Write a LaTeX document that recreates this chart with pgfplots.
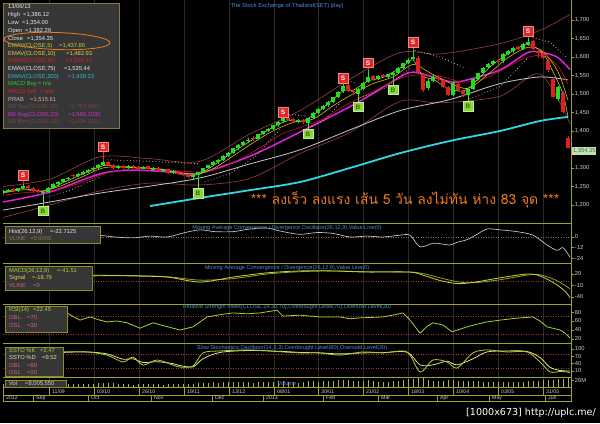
\documentclass[border=0pt]{standalone}
\usepackage{pgfplots}
\pgfplotsset{compat=1.18}
\usepackage{pgfplotstable}
\usepackage{fontspec}
\setmainfont{Liberation Sans}
\newfontfamily\thaifont[Script=Thai]{Loma}
\newfontfamily\wmfont{DejaVu Sans}
\newcommand\fs[1]{\fontsize{#1}{#1}\selectfont}

\definecolor{axc}{HTML}{A0A02C}
\definecolor{lab}{HTML}{CCCCCC}
\definecolor{gridc}{HTML}{2A2A2A}
\definecolor{upc}{HTML}{22DD22}
\definecolor{dnc}{HTML}{E02020}
\definecolor{ema5}{HTML}{B4D832}
\definecolor{ema10}{HTML}{E0B020}
\definecolor{ema25}{HTML}{C01818}
\definecolor{ema75}{HTML}{C8C8C8}
\definecolor{ema200}{HTML}{30D8E0}
\definecolor{bbavg}{HTML}{E020E0}
\definecolor{bbband}{HTML}{8A3A3A}
\definecolor{prab}{HTML}{D8A8A8}
\definecolor{ttl}{HTML}{4C8CD8}
\definecolor{boxf}{HTML}{363636}
\definecolor{boxb}{HTML}{8C8C2C}
\definecolor{infob}{HTML}{8C7A3C}
\definecolor{refl}{HTML}{A83848}
\definecolor{zerol}{HTML}{8C6C4C}
\definecolor{pinkt}{HTML}{D06A6A}
\definecolor{ygreen}{HTML}{A8D030}
\definecolor{yel}{HTML}{E0D040}
\definecolor{paley}{HTML}{E0E090}
\definecolor{sred}{HTML}{E02828}
\definecolor{bgreen}{HTML}{88D838}
\definecolor{thaio}{HTML}{EC7A22}
\definecolor{histc}{HTML}{C8C0B0}
\definecolor{volc}{HTML}{B4B43C}
\definecolor{whitet}{HTML}{E6E6E6}
\definecolor{cyant}{HTML}{28C0C8}
\definecolor{brownt}{HTML}{7A4242}
\definecolor{magt}{HTML}{D030D0}
\definecolor{greent}{HTML}{30D030}
\definecolor{olivet}{HTML}{8C7C48}
\definecolor{pbox}{HTML}{C8DCB8}
\definecolor{ptxt}{HTML}{2E7D2E}

\pgfplotstableread{
x o h l c v
3 1232 1240 1230 1236 12
8 1236 1243 1234 1240 10
13 1242 1245 1235 1238 11
18 1238 1247 1236 1244 12
23 1246 1256 1244 1250 14
28 1251 1253 1243 1245 13
33 1246 1248 1236 1239 15
38 1240 1242 1232 1236 12
43 1231 1238 1222 1233 16
48 1234 1248 1232 1245 14
53 1246 1258 1244 1255 15
58 1256 1265 1252 1262 13
63 1263 1270 1258 1268 12
68 1270 1276 1266 1272 11
73 1281 1284 1274 1278 12
78 1277 1287 1275 1283 13
83 1284 1292 1281 1288 14
88 1290 1297 1286 1294 12
93 1296 1303 1292 1299 13
98 1300 1310 1297 1306 15
103 1307 1320 1305 1314 18
108 1316 1320 1306 1309 17
113 1309 1311 1296 1300 16
118 1299 1307 1296 1304 12
123 1305 1308 1296 1299 11
128 1299 1309 1297 1305 12
133 1306 1308 1299 1302 10
138 1303 1305 1295 1298 11
143 1298 1306 1296 1303 12
148 1304 1306 1293 1296 13
153 1295 1302 1293 1299 11
158 1300 1302 1290 1292 12
163 1291 1298 1289 1295 10
168 1296 1298 1285 1288 12
173 1287 1294 1285 1290 11
178 1291 1293 1280 1283 13
183 1284 1286 1277 1280 12
188 1282 1284 1272 1276 14
193 1275 1284 1270 1281 13
198 1280 1290 1264 1287 16
203 1288 1301 1286 1298 18
208 1299 1309 1296 1306 17
213 1307 1318 1304 1315 19
218 1316 1325 1312 1322 18
223 1322 1334 1319 1331 20
228 1333 1343 1329 1340 21
233 1341 1355 1338 1352 22
238 1353 1364 1348 1361 20
243 1362 1373 1358 1370 21
248 1372 1380 1367 1376 19
253 1382 1387 1372 1377 18
258 1378 1393 1376 1390 20
263 1391 1401 1388 1398 19
268 1399 1408 1396 1405 21
273 1406 1417 1403 1414 22
278 1415 1427 1412 1424 24
283 1426 1444 1422 1434 26
288 1436 1440 1427 1430 22
293 1432 1434 1422 1426 20
298 1425 1432 1422 1428 18
303 1430 1432 1420 1424 19
308 1422 1436 1414 1433 23
313 1434 1450 1432 1447 24
318 1448 1461 1445 1458 22
323 1459 1471 1456 1468 23
328 1470 1481 1466 1478 24
333 1479 1493 1476 1490 25
338 1491 1508 1488 1505 27
343 1507 1536 1503 1522 30
348 1524 1528 1506 1510 28
353 1508 1512 1498 1505 26
358 1500 1515 1492 1512 24
363 1513 1533 1510 1530 25
368 1532 1566 1529 1545 27
373 1548 1552 1536 1540 23
378 1541 1551 1537 1548 22
383 1550 1553 1542 1546 21
388 1545 1555 1540 1552 22
393 1550 1559 1533 1556 24
398 1558 1573 1555 1570 26
403 1571 1585 1568 1582 28
408 1583 1596 1580 1592 32
413 1594 1618 1590 1600 34
418 1598 1602 1555 1560 36
423 1555 1558 1505 1512 38
428 1515 1540 1510 1535 30
433 1536 1550 1532 1545 26
438 1547 1550 1536 1540 24
443 1538 1541 1515 1520 26
448 1518 1522 1495 1498 28
453 1497 1535 1494 1530 30
458 1528 1531 1506 1510 24
463 1509 1512 1492 1500 25
468 1498 1516 1490 1512 26
473 1514 1543 1511 1540 25
478 1541 1558 1538 1555 23
483 1556 1573 1553 1570 22
488 1572 1583 1568 1580 21
493 1582 1592 1578 1588 20
498 1590 1594 1582 1586 19
503 1588 1611 1585 1608 22
508 1609 1619 1605 1615 21
513 1617 1627 1612 1624 20
518 1626 1631 1618 1622 19
523 1621 1637 1618 1633 22
528 1634 1652 1630 1640 24
533 1642 1646 1618 1622 26
538 1615 1625 1598 1612 25
543 1612 1616 1595 1598 27
548 1590 1595 1560 1566 28
553 1540 1545 1488 1492 30
558 1486 1522 1480 1518 32
563 1503 1508 1448 1452 34
568 1382 1386 1354 1354 36
}\candles

\pgfplotsset{
 panel/.style={
  scale only axis, width=568bp, xmin=3, xmax=571, anchor=south west,
  axis line style={draw=none}, xtick=\empty,
  ytick pos=right, yticklabel pos=right, tick align=outside,
  major tick length=2.5bp,
  tick style={draw=axc, line width=0.6bp},
  yticklabel style={font=\fs{5.8}, text=lab, inner sep=1.2bp},
 },
}

\newcommand\infoline[5]{%
 \node[anchor=base west,inner sep=0,text=#2,font=\fs{5.8}] at (8,#1) {#3};
 \node[anchor=base west,inner sep=0,text=#2,font=\fs{5.8}] at (#4,#1) {#5};}
\newcommand\subline[5]{%
 \node[anchor=base west,inner sep=0,text=#2,font=\fs{5.8}] at (9,#1) {#3};
 \node[anchor=base west,inner sep=0,text=#2,font=\fs{5.8}] at (#4,#1) {#5};}

\begin{document}
\begin{tikzpicture}[x=1bp,y=1bp]
\useasboundingbox (0,0) rectangle (600,423);
\fill[black] (0,0) rectangle (600,423);
% faint vertical grid
\foreach \gx in {49,94,139,184,229,274,318,363,408,453,498,543}{
  \draw[gridc, line width=0.6bp] (\gx,36) -- (\gx,423);}

% ---------------- main price panel ----------------
\begin{axis}[panel, at={(3bp,200bp)}, height=223bp, ymin=1151.2, ymax=1754,
 ytick={1200,1250,1300,1400,1450,1500,1550,1600,1650,1700},
 yticklabels={{1,200},{1,250},{1,300},{1,400},{1,450},{1,500},{1,550},{1,600},{1,650},{1,700}}]
% Bollinger bands
\addplot[bbband, line width=0.7bp, smooth] coordinates {(3,1250) (50,1270) (100,1330) (150,1325) (200,1318) (250,1392) (300,1455) (350,1540) (400,1612) (440,1608) (500,1636) (540,1672) (570,1715)};
\addplot[bbband, line width=0.7bp, smooth] coordinates {(3,1166) (50,1200) (100,1238) (150,1259) (200,1254) (250,1272) (300,1339) (350,1396) (400,1480) (440,1476) (500,1494) (540,1554) (570,1420)};
% EMA200
\addplot[ema200, line width=1.8bp, smooth] coordinates {(150,1197) (200,1219) (250,1240) (300,1262) (350,1300) (400,1340) (450,1373) (500,1400) (540,1427) (568,1438)};
% EMA75
\addplot[ema75, line width=0.8bp, smooth] coordinates {(3,1186) (50,1208) (100,1232) (150,1251) (200,1273) (250,1311) (300,1349) (350,1403) (400,1455) (450,1485) (500,1528) (540,1546) (568,1538)};
% BB average
\addplot[bbavg, line width=1.5bp, smooth] coordinates {(3,1208) (50,1235) (100,1284) (133,1294) (170,1289) (200,1286) (250,1332) (300,1397) (357,1476) (400,1546) (413,1559) (433,1546) (453,1532) (467,1538) (500,1565) (527,1611) (540,1613) (557,1600) (570,1566)};
% EMA25
\addplot[ema25, line width=0.6bp, smooth] coordinates {(3,1226) (23,1233) (43,1236) (63,1245) (83,1262) (103,1283) (123,1295) (143,1299) (163,1297) (183,1291) (203,1290) (223,1302) (243,1328) (263,1360) (283,1393) (303,1412) (323,1432) (343,1466) (363,1493) (383,1520) (403,1545) (423,1552) (443,1546) (463,1532) (483,1540) (503,1566) (523,1595) (543,1604) (558,1575) (568,1526)};
% EMA10
\addplot[ema10, line width=0.6bp, smooth] coordinates {(3,1232) (23,1241) (43,1238) (63,1254) (83,1277) (103,1300) (123,1303) (143,1301) (163,1296) (183,1286) (198,1284) (213,1298) (233,1332) (253,1368) (273,1400) (293,1423) (313,1432) (333,1468) (353,1500) (373,1528) (393,1546) (413,1580) (428,1560) (448,1532) (468,1515) (488,1553) (508,1598) (528,1626) (543,1615) (558,1560) (568,1483)};
% EMA5
\addplot[ema5, line width=0.6bp, smooth] coordinates {(3,1235) (23,1244) (43,1237) (63,1260) (83,1284) (103,1306) (113,1306) (123,1302) (143,1300) (163,1295) (183,1282) (198,1282) (213,1306) (233,1343) (253,1377) (273,1410) (288,1428) (303,1427) (323,1462) (343,1508) (353,1510) (368,1535) (383,1545) (403,1575) (413,1592) (423,1548) (433,1540) (448,1515) (463,1508) (473,1527) (493,1580) (513,1617) (528,1634) (543,1610) (553,1560) (563,1500) (568,1438)};
% parabolic SAR (dots)
\pgfplotsset{prabst/.style={prab, line width=1.1bp, line cap=round, dash pattern=on 0bp off 3.2bp}}
\addplot[prabst] coordinates {(48,1222) (70,1240) (100,1275)};
\addplot[prabst] coordinates {(108,1322) (150,1318) (200,1311)};
\addplot[prabst] coordinates {(205,1262) (230,1285) (255,1330) (280,1405)};
\addplot[prabst] coordinates {(286,1446) (308,1440)};
\addplot[prabst] coordinates {(312,1412) (325,1430) (340,1476)};
\addplot[prabst] coordinates {(345,1538) (357,1528)};
\addplot[prabst] coordinates {(360,1490) (385,1515) (410,1570)};
\addplot[prabst] coordinates {(415,1618) (440,1600) (465,1570)};
\addplot[prabst] coordinates {(470,1487) (500,1520) (528,1598)};
\addplot[prabst] coordinates {(533,1652) (550,1640) (566,1600)};
% candles: wicks
\addplot[draw=none, mark=none, error bars/.cd, y dir=plus, y explicit, error mark=none,
  error bar style={draw=upc, line width=0.7bp}]
  table[x=x, y expr={\thisrow{c}>=\thisrow{o} ? \thisrow{l} : nan}, y error plus expr={\thisrow{h}-\thisrow{l}}] {\candles};
\addplot[draw=none, mark=none, error bars/.cd, y dir=plus, y explicit, error mark=none,
  error bar style={draw=dnc, line width=0.7bp}]
  table[x=x, y expr={\thisrow{c}<\thisrow{o} ? \thisrow{l} : nan}, y error plus expr={\thisrow{h}-\thisrow{l}}] {\candles};
% candles: bodies
\addplot[draw=none, mark=none, error bars/.cd, y dir=plus, y explicit, error mark=none,
  error bar style={draw=upc, line width=3.1bp}]
  table[x=x, y expr={\thisrow{c}>=\thisrow{o} ? \thisrow{o} : nan}, y error plus expr={\thisrow{c}-\thisrow{o}+0.8}] {\candles};
\addplot[draw=none, mark=none, error bars/.cd, y dir=plus, y explicit, error mark=none,
  error bar style={draw=dnc, line width=3.1bp}]
  table[x=x, y expr={\thisrow{c}<\thisrow{o} ? \thisrow{c} : nan}, y error plus expr={\thisrow{o}-\thisrow{c}}] {\candles};
% signal stems
\addplot[sred, line width=0.6bp, unbounded coords=jump] coordinates {(23,1267) (23,1256) (23,nan) (103,1343) (103,1320) (103,nan) (283,1437) (283,1444) (283,nan) (343,1529) (343,1536) (343,nan) (368,1570) (368,1566) (368,nan) (413,1626) (413,1618) (413,nan) (528,1656) (528,1652)};
\addplot[bgreen, line width=0.6bp, unbounded coords=jump] coordinates {(43,1198) (43,1222) (43,nan) (198,1246) (198,1264) (198,nan) (308,1406) (308,1414) (308,nan) (358,1479) (358,1492) (358,nan) (393,1525) (393,1533) (393,nan) (468,1481) (468,1490)};
% S markers
\addplot[only marks, mark=square*, mark size=4.8bp,
  mark options={fill=sred, draw=sred!55!white, line width=0.5bp},
  nodes near coords={S},
  every node near coord/.append style={anchor=center, inner sep=0pt, font=\fs{6.5}\bfseries, text=white}]
  coordinates {(23,1281) (103,1357) (283,1451) (343,1543) (368,1584) (413,1640) (528,1670)};
% B markers
\addplot[only marks, mark=square*, mark size=4.8bp,
  mark options={fill=bgreen, draw=bgreen!50!white, line width=0.5bp},
  nodes near coords={B},
  every node near coord/.append style={anchor=center, inner sep=0pt, font=\fs{6.5}\bfseries, text=bgreen!45!black}]
  coordinates {(43,1184) (198,1232) (308,1392) (358,1465) (393,1511) (468,1467)};
\end{axis}

% ---------------- MACD histogram oscillator ----------------
\begin{axis}[panel, at={(3bp,160bp)}, height=40bp, ymin=-29.2, ymax=15.7,
 ytick={0,-12,-24}, yticklabels={0,-12,-24}]
\addplot[zerol, line width=0.6bp, dash pattern=on 1bp off 1.5bp] coordinates {(3,0) (571,0)};
\addplot[histc, line width=0.7bp, smooth] coordinates {(100,2) (115,0) (133,-1) (150,1) (167,0) (185,5) (200,8) (215,6) (233,6) (250,9) (267,10) (283,6) (300,3) (317,5) (333,4) (350,0) (367,1) (383,0) (400,2) (410,2) (420,-11) (433,-7) (443,-8) (450,-9) (457,-6) (467,-3) (477,3) (487,9) (500,8) (517,6) (533,2) (547,-9) (557,-15) (563,-12) (570,-22.7)};
\end{axis}

% ---------------- MACD ----------------
\begin{axis}[panel, at={(3bp,119bp)}, height=41bp, ymin=-58.3, ymax=48.7,
 ytick={20,-10,-40}, yticklabels={20,-10,-40}]
\addplot[refl, line width=0.6bp, dash pattern=on 1bp off 1.5bp] coordinates {(3,0) (571,0)};
\addplot[ygreen!80!black, line width=0.8bp, smooth] coordinates {(93,15) (130,16) (167,13) (200,4) (233,8) (267,20) (300,26) (333,28) (367,26) (410,25) (425,20) (440,10) (457,0) (473,-3) (500,5) (527,17) (540,18) (555,5) (565,-10) (570,-18.8)};
\addplot[yel!70!ygreen, line width=0.8bp, smooth] coordinates {(93,17) (130,15) (167,12) (200,-1) (233,12) (267,23) (300,28) (333,28) (367,25) (410,25) (425,15) (440,3) (457,-5) (473,-2) (500,10) (527,20) (540,15) (555,-5) (565,-25) (570,-41.5)};
\end{axis}

% ---------------- RSI ----------------
\begin{axis}[panel, at={(3bp,80bp)}, height=39bp, ymin=11.1, ymax=97.8,
 ytick={80,60,40,20}, yticklabels={80,60,40,20}]
\addplot[refl, line width=0.6bp, dash pattern=on 1bp off 1.5bp] coordinates {(3,70) (571,70)};
\addplot[refl, line width=0.6bp, dash pattern=on 1bp off 1.5bp] coordinates {(3,30) (571,30)};
\addplot[ygreen, line width=0.8bp] coordinates {(67,78) (73,70) (80,62) (90,69) (98,63) (107,58) (117,60) (127,56) (140,44) (153,56) (163,50) (173,44) (180,40) (193,47) (200,58) (207,69) (220,74) (233,78) (247,76) (260,78) (277,84) (283,71) (300,73) (320,69) (340,69) (350,65) (360,67) (383,69) (395,74) (403,78) (410,62) (420,33) (427,48) (433,56) (443,51) (452,36) (467,47) (477,53) (487,58) (500,62) (520,67) (533,69) (540,60) (547,47) (560,40) (565,33) (570,22.45)};
\end{axis}

% ---------------- Slow stochastics ----------------
\begin{axis}[panel, at={(3bp,46bp)}, height=34bp, ymin=-14.8, ymax=124.6,
 ytick={100,70,40,10}, yticklabels={100,70,40,10}]
\addplot[refl, line width=0.6bp, dash pattern=on 1bp off 1.5bp] coordinates {(3,80) (571,80)};
\addplot[refl, line width=0.6bp, dash pattern=on 1bp off 1.5bp] coordinates {(3,20) (571,20)};
\addplot[paley, line width=0.8bp, smooth] coordinates {(63,86) (87,88) (107,80) (123,58) (133,60) (143,45) (157,48) (173,40) (180,32) (193,27) (203,60) (220,86) (250,94) (283,90) (300,86) (320,84) (340,80) (363,84) (383,85) (407,87) (420,35) (433,35) (447,50) (457,35) (473,60) (487,88) (507,92) (527,90) (540,65) (550,25) (560,12) (567,10) (570,9.52)};
\addplot[ygreen, line width=0.8bp, smooth] coordinates {(63,88) (87,88) (107,75) (123,47) (133,67) (143,34) (157,55) (173,34) (180,26) (193,30) (203,84) (220,92) (250,96) (283,88) (300,84) (320,84) (340,75) (363,88) (383,84) (407,88) (420,6) (433,55) (447,47) (457,22) (473,84) (487,96) (507,88) (527,88) (540,47) (550,6) (560,8) (567,6) (570,2.47)};
\end{axis}

% ---------------- Volume ----------------
\begin{axis}[panel, at={(3bp,36bp)}, height=10bp, ymin=0, ymax=40,
 ytick={26}, yticklabels={26M}]
\addplot[ycomb, volc, line width=0.9bp, mark=none] table[x=x, y=v] {\candles};
\end{axis}

% ---------------- separators and frame ----------------
\foreach \yy in {200,160,119,80,46,36,28,22}{\draw[axc, line width=0.8bp] (3,\yy) -- (571.5,\yy);}
\draw[axc, line width=0.8bp] (571.5,22) -- (571.5,423);
\draw[axc, line width=0.8bp] (3,22) -- (3,36);
\foreach \xx/\lbl in {49/11\slash 09,94/03\slash 10,139/26\slash 10,184/19\slash 11,229/13\slash 12,274/08\slash 01,318/30\slash 01,363/21\slash 02,408/18\slash 03,453/10\slash 04,498/03\slash 05,543/31\slash 05}{
  \draw[axc, line width=0.6bp] (\xx,28) -- (\xx,36);
  \node[anchor=base west, inner sep=0, text=lab, font=\fs{5.2}] at (\xx+3,30) {\lbl};}
\node[anchor=base west, inner sep=0, text=lab, font=\fs{5.2}] at (6,23.5) {2012};
\foreach \xx/\lbl in {33/Sep,88/Oct,151/Nov,212/Dec,263/2013,323/Feb,378/Mar,437/Apr,489/May,545/Jun}{
  \draw[axc, line width=0.6bp] (\xx,22) -- (\xx,28);
  \node[anchor=base west, inner sep=0, text=lab, font=\fs{5.2}] at (\xx+3,23.5) {\lbl};}

% ---------------- titles ----------------
\node[text=ttl, font=\fs{5.8}] at (287,417) {The Stock Exchange of Thailand(SET) [day]};
\node[text=ttl, font=\fs{5.6}] at (287,195) {Moving Average Convergence / Divergence Oscillator(26,12,9),Value Line(0)};
\node[text=ttl, font=\fs{5.6}] at (287,155) {Moving Average Convergence / Divergence(26,12,9),Value Line(0)};
\node[text=ttl, font=\fs{5.6}] at (287,116) {Relative Strength Index(CLOSE,14,30,70),Overbought Level(70),Oversold Level(30)};
\node[text=ttl, font=\fs{5.6}] at (292,75) {Slow Stochastics Oscillator(14,3,3),Overbought Level(80),Oversold Level(20)};
\node[text=ttl, font=\fs{5.6}] at (287,40) {Volume};

% current price label
\node[anchor=west, fill=pbox, text=ptxt, font=\fs{5.8}, inner sep=0.8bp, minimum height=7.5bp] at (572,272) {1,354.35};

% Thai annotation
\node[text=thaio, font=\thaifont\fs{14}] at (405,223) {*** ลงเร็ว ลงแรง เส้น 5 วัน ลงไม่ทัน ห่าง 83 จุด ***};

% ---------------- info box ----------------
\draw[fill=boxf, draw=infob, line width=0.8bp] (3,295) rectangle (119,420);
\node[anchor=base west,inner sep=0,text=whitet,font=\fs{5.8}] at (8,414) {13/06/13};
\infoline{406}{whitet}{High}{23}{=1,386.12}
\infoline{398.4}{whitet}{Low}{22}{=1,354.00}
\infoline{390.8}{whitet}{Open}{25}{=1,382.29}
\infoline{383}{whitet}{Close}{27}{=1,354.35}
\infoline{375.4}{ema5}{EMAV(CLOSE,5)}{59}{=1,437.66}
\infoline{367.8}{yel}{EMAV(CLOSE,10)}{66}{=1,482.93}
\infoline{360.2}{dnc}{EMAV(CLOSE,25)}{66}{=1,526.12}
\infoline{352.4}{whitet}{EMAV(CLOSE,75)}{64}{=1,535.44}
\infoline{344.8}{cyant}{EMAV(CLOSE,200)}{68}{=1,439.23}
\infoline{337.2}{greent}{MACD Buy}{38}{= n/a}
\infoline{329.6}{dnc}{MACD Sell}{40}{= n/a}
\infoline{322}{prab}{PRAB}{30}{=1,515.61}
\infoline{314.4}{brownt}{BB Top(CLOSE,20)}{68}{=1,767.8863}
\infoline{306.8}{magt}{BB Avg(CLOSE,20)}{68}{=1,566.1030}
\infoline{299.2}{brownt}{BB Btm(CLOSE,20)}{68}{=1,404.3152}
\draw[thaio, line width=0.8bp, rotate around={-2:(57,382)}] (57,382) ellipse [x radius=53, y radius=8.5];

% ---------------- sub-panel boxes ----------------
\draw[fill=boxf, draw=boxb, line width=0.8bp] (5,180) rectangle (100,197);
\subline{190}{whitet}{Hist(26,12,9)}{50}{=-22.7125}
\subline{182.5}{olivet}{VLINE}{30}{=0.0000}
\draw[fill=boxf, draw=boxb, line width=0.8bp] (5,133) rectangle (92,157);
\subline{151}{ygreen}{MACD(26,12,9)}{57}{=-41.51}
\subline{143.3}{yel}{Signal}{32}{=-18.79}
\subline{136}{pinkt}{VLINE}{33}{=0}
\draw[fill=boxf, draw=boxb, line width=0.8bp] (5,91) rectangle (67,117);
\subline{111.5}{ygreen}{RSI(14)}{33}{=22.45}
\subline{103.5}{pinkt}{OBL}{27}{=70}
\subline{96}{pinkt}{OSL}{27}{=30}
\draw[fill=boxf, draw=boxb, line width=0.8bp] (5,46.5) rectangle (63,76);
\subline{71}{ygreen}{SSTO \%K}{40}{=2.47}
\subline{63.3}{paley}{SSTO \%D}{42}{=9.52}
\subline{56}{pinkt}{OBL}{27}{=80}
\subline{48.3}{pinkt}{OSL}{27}{=20}
\draw[fill=boxf, draw=boxb, line width=0.8bp] (5,36) rectangle (66,42.5);
\node[anchor=base west,inner sep=0,text=lab,font=\fs{5.8}] at (9,37.2) {Vol};
\node[anchor=base west,inner sep=0,text=lab,font=\fs{5.8}] at (25,37.2) {=8,005,550};

% watermark
\node[anchor=east, text=white, font=\wmfont\fs{9.6}, inner sep=0] at (596,10) {[1000x673] http://uplc.me/};
\end{tikzpicture}
\end{document}
